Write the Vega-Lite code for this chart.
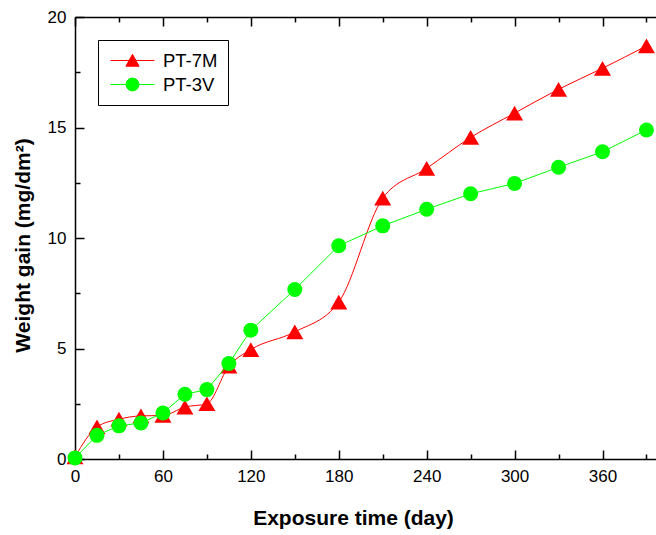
{
  "$schema": "https://vega.github.io/schema/vega-lite/v6.json",
  "width": 581,
  "height": 442,
  "autosize": {"type": "none"},
  "padding": {"left": 75, "top": 17, "right": 0, "bottom": 76},
  "background": "white",
  "config": {
    "view": {"stroke": null},
    "font": "Liberation Sans",
    "axis": {
      "domainColor": "black",
      "domainWidth": 1.5,
      "ticks": false,
      "gridColor": "black",
      "gridOpacity": 1,
      "gridWidth": 1.5,
      "labelFont": "Liberation Sans",
      "labelFontSize": 17,
      "labelColor": "black",
      "labelFlush": false,
      "titleFont": "Liberation Sans",
      "titleFontSize": 21,
      "titleFontWeight": "bold",
      "titleColor": "black"
    }
  },
  "data": {
    "values": [
      {"series": "PT-7M", "day": 0, "gain": 0.1},
      {"series": "PT-7M", "day": 15, "gain": 1.45},
      {"series": "PT-7M", "day": 30, "gain": 1.8},
      {"series": "PT-7M", "day": 45, "gain": 1.95},
      {"series": "PT-7M", "day": 60, "gain": 1.97},
      {"series": "PT-7M", "day": 75, "gain": 2.35},
      {"series": "PT-7M", "day": 90, "gain": 2.5},
      {"series": "PT-7M", "day": 105, "gain": 4.2},
      {"series": "PT-7M", "day": 120, "gain": 4.95},
      {"series": "PT-7M", "day": 150, "gain": 5.75},
      {"series": "PT-7M", "day": 180, "gain": 7.1},
      {"series": "PT-7M", "day": 210, "gain": 11.8},
      {"series": "PT-7M", "day": 240, "gain": 13.15},
      {"series": "PT-7M", "day": 270, "gain": 14.55},
      {"series": "PT-7M", "day": 300, "gain": 15.65},
      {"series": "PT-7M", "day": 330, "gain": 16.73},
      {"series": "PT-7M", "day": 360, "gain": 17.68},
      {"series": "PT-7M", "day": 390, "gain": 18.69},
      {"series": "PT-3V", "day": 0, "gain": 0.05},
      {"series": "PT-3V", "day": 15, "gain": 1.07},
      {"series": "PT-3V", "day": 30, "gain": 1.5},
      {"series": "PT-3V", "day": 45, "gain": 1.63},
      {"series": "PT-3V", "day": 60, "gain": 2.08},
      {"series": "PT-3V", "day": 75, "gain": 2.93},
      {"series": "PT-3V", "day": 90, "gain": 3.14},
      {"series": "PT-3V", "day": 105, "gain": 4.32},
      {"series": "PT-3V", "day": 120, "gain": 5.83},
      {"series": "PT-3V", "day": 150, "gain": 7.67},
      {"series": "PT-3V", "day": 180, "gain": 9.65},
      {"series": "PT-3V", "day": 210, "gain": 10.55},
      {"series": "PT-3V", "day": 240, "gain": 11.3},
      {"series": "PT-3V", "day": 270, "gain": 12.0},
      {"series": "PT-3V", "day": 300, "gain": 12.47},
      {"series": "PT-3V", "day": 330, "gain": 13.2},
      {"series": "PT-3V", "day": 360, "gain": 13.9},
      {"series": "PT-3V", "day": 390, "gain": 14.89}
    ]
  },
  "resolve": {"axis": {"x": "independent", "y": "independent"}},
  "layer": [
    {
      "transform": [{"filter": "datum.series === 'PT-7M'"}],
      "mark": {"type": "line", "interpolate": "monotone", "strokeWidth": 1},
      "encoding": {
        "x": {
          "field": "day", "type": "quantitative",
          "scale": {"domain": [0, 396.5], "nice": false, "zero": false},
          "axis": {
            "orient": "bottom",
            "values": [0, 60, 120, 180, 240, 300, 360],
            "grid": true,
            "gridDash": [9, 2000],
            "labelPadding": 9,
            "title": "Exposure time (day)",
            "titlePadding": 23,
            "titleX": 278
          }
        },
        "y": {
          "field": "gain", "type": "quantitative",
          "scale": {"domain": [0, 20], "nice": false},
          "axis": {
            "orient": "left",
            "values": [0, 5, 10, 15, 20],
            "grid": true,
            "gridDash": [9, 2000],
            "labelPadding": 9,
            "title": "Weight gain (mg/dm²)",
            "titlePadding": 14,
            "titleY": 228
          }
        },
        "color": {
          "field": "series", "type": "nominal",
          "scale": {"domain": ["PT-7M", "PT-3V"], "range": ["#ff0000", "#00ff00"]},
          "legend": {
            "orient": "none",
            "legendX": 23,
            "legendY": 23,
            "title": null,
            "strokeColor": "black",
            "fillColor": "white",
            "padding": 10,
            "labelFont": "Liberation Sans",
            "labelFontSize": 18.5,
            "labelColor": "black",
            "labelOffset": 8,
            "symbolOffset": 2,
            "symbolSize": 1936,
            "symbolStrokeWidth": 1,
            "clipHeight": 21,
            "rowPadding": 3,
            "encode": {
              "symbols": {
                "update": {
                  "shape": {"signal": "datum.value === 'PT-7M' ? 'M-1,0L1,0M-0.3,0.26L0.3,0.26L0,-0.28Z' : 'M-1,0L1,0M-0.29,0A0.29,0.29,0,1,0,0.29,0A0.29,0.29,0,1,0,-0.29,0Z'"},
                  "fill": {"signal": "datum.value === 'PT-7M' ? '#ff0000' : '#00ff00'"},
                  "stroke": {"signal": "datum.value === 'PT-7M' ? '#ff0000' : '#00ff00'"}
                }
              }
            }
          }
        }
      }
    },
    {
      "transform": [{"filter": "datum.series === 'PT-7M'"}],
      "mark": {"type": "point", "shape": "triangle-up", "filled": true, "size": 289, "opacity": 1},
      "encoding": {
        "x": {"field": "day", "type": "quantitative", "axis": {
            "orient": "bottom", "domain": false, "labels": false,
            "values": [30, 90, 150, 210, 270, 330, 390],
            "grid": true, "gridDash": [5, 2000], "title": null
          }},
        "y": {"field": "gain", "type": "quantitative", "axis": {
            "orient": "left", "domain": false, "labels": false,
            "values": [2.5, 7.5, 12.5, 17.5],
            "grid": true, "gridDash": [5, 2000], "title": null
          }},
        "color": {"field": "series", "type": "nominal", "legend": null}
      }
    },
    {
      "transform": [{"filter": "datum.series === 'PT-3V'"}],
      "mark": {"type": "line", "interpolate": "linear", "strokeWidth": 1},
      "encoding": {
        "x": {"field": "day", "type": "quantitative", "axis": {
            "orient": "top", "labels": false,
            "values": [0, 60, 120, 180, 240, 300, 360],
            "grid": true, "gridDash": [9, 2000], "title": null
          }},
        "y": {"field": "gain", "type": "quantitative", "axis": null},
        "color": {"field": "series", "type": "nominal"}
      }
    },
    {
      "transform": [{"filter": "datum.series === 'PT-3V'"}],
      "mark": {"type": "point", "shape": "circle", "filled": true, "size": 225, "opacity": 1},
      "encoding": {
        "x": {"field": "day", "type": "quantitative", "axis": {
            "orient": "top", "domain": false, "labels": false,
            "values": [30, 90, 150, 210, 270, 330, 390],
            "grid": true, "gridDash": [5, 2000], "title": null
          }},
        "y": {"field": "gain", "type": "quantitative", "axis": null},
        "color": {"field": "series", "type": "nominal", "legend": null}
      }
    }
  ]
}
